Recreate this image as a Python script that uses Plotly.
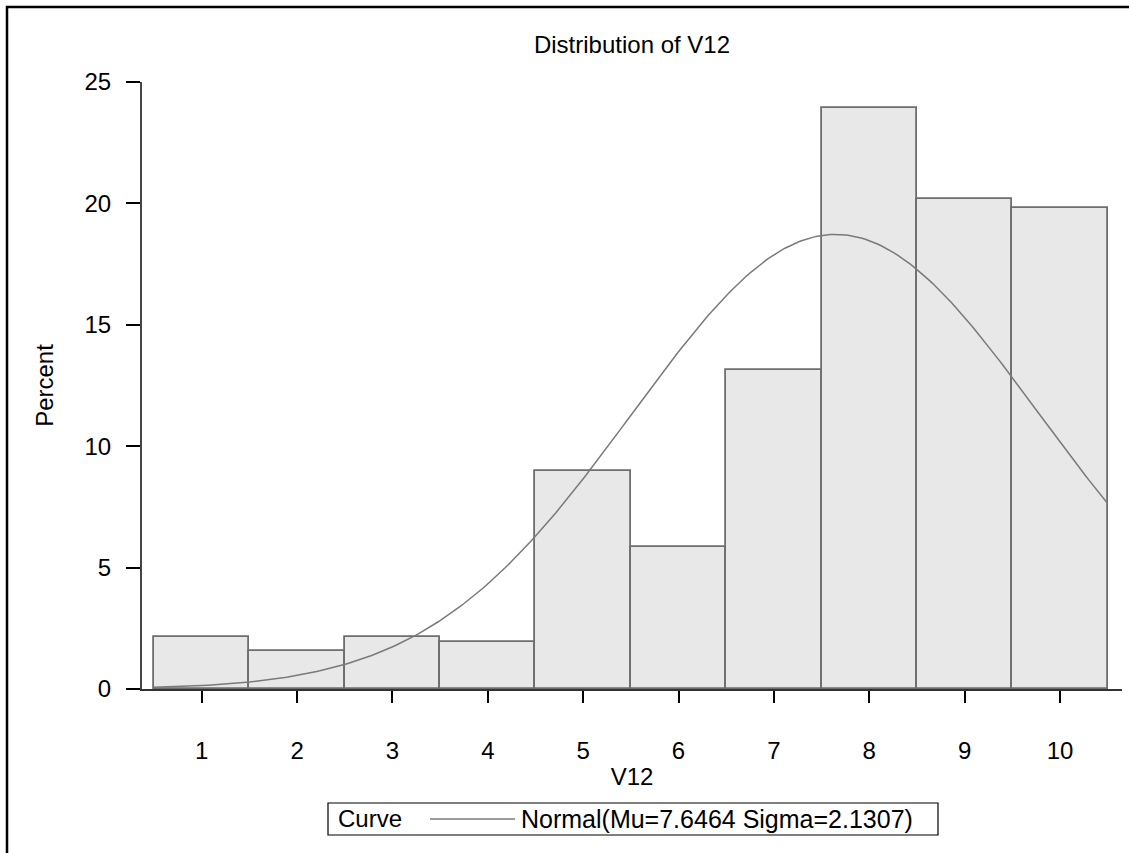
import numpy as np
import plotly.graph_objects as go

# ---- data ----
bin_centers = [1, 2, 3, 4, 5, 6, 7, 8, 9, 10]
percent = [2.16, 1.57, 2.16, 1.94, 8.99, 5.84, 13.12, 23.91, 20.17, 19.80]
MU = 7.6464
SIGMA = 2.1307
BIN_WIDTH = 1.0
x_ticks = [1, 2, 3, 4, 5, 6, 7, 8, 9, 10]
y_ticks = [0, 5, 10, 15, 20, 25]
legend_label = "Curve"
curve_name = f"Normal(Mu={MU:.4f} Sigma={SIGMA:.4f})"

# fitted normal curve (percent scale) from the legend parameters
xc = np.linspace(0.5, 10.5, 300)
yc = 100 * BIN_WIDTH * np.exp(-0.5 * ((xc - MU) / SIGMA) ** 2) / (SIGMA * np.sqrt(2 * np.pi))

FONT = "Liberation Sans, Arial, sans-serif"
CURVE_COLOR = "#7a7a7a"

fig = go.Figure()
fig.add_trace(go.Bar(
    x=bin_centers, y=percent, width=BIN_WIDTH,
    marker=dict(color="#e8e8e8", line=dict(color="#6e6e6e", width=1.8)),
    showlegend=False, hoverinfo="x+y",
))
fig.add_trace(go.Scatter(
    x=xc, y=yc, mode="lines",
    line=dict(color=CURVE_COLOR, width=1.5),
    name=curve_name, showlegend=False,
))

W, H = 1129, 853
ml, mr, mt, mb = 142, 7, 82, 164
pw = W - ml - mr
ph = H - mt - mb


def px(x):
    return (x - ml) / pw


def py(y):
    return (H - mb - y) / ph


fig.update_layout(
    width=W, height=H,
    margin=dict(l=ml, r=mr, t=mt, b=mb),
    paper_bgcolor="white", plot_bgcolor="white",
    font=dict(family=FONT, size=24, color="black"),
    title=dict(text="Distribution of V12", x=(ml + (W - mr)) / 2 / W, xanchor="center",
               y=1 - 45 / H, yanchor="middle", font=dict(size=24, color="black")),
    bargap=0,
    showlegend=False,
    xaxis=dict(
        range=[0.374, 10.65], tickvals=x_ticks, ticks="outside", ticklen=12, tickwidth=2,
        tickcolor="black", showline=True, linecolor="#333333", linewidth=2,
        showgrid=False, zeroline=False, ticklabelstandoff=27,
        title=dict(text="V12", standoff=5, font=dict(size=24)),
    ),
    yaxis=dict(
        range=[0, 25], tickvals=y_ticks, ticks="outside", ticklen=14, tickwidth=2,
        tickcolor="black", showline=True, linecolor="#444444", linewidth=2,
        showgrid=False, zeroline=False, ticklabelstandoff=10,
        title=dict(text="Percent", standoff=24, font=dict(size=24)),
    ),
)

# legend box (drawn by hand so the line sample has the reference's length)
fig.add_shape(type="rect", xref="paper", yref="paper",
              x0=px(328), x1=px(938), y0=py(835), y1=py(803),
              line=dict(color="black", width=1.2), fillcolor="white")
fig.add_shape(type="line", xref="paper", yref="paper",
              x0=px(430), x1=px(515), y0=py(819), y1=py(819),
              line=dict(color=CURVE_COLOR, width=1.5))
fig.add_annotation(text=legend_label, xref="paper", yref="paper", x=px(336), y=py(819),
                   xanchor="left", yanchor="middle", showarrow=False, font=dict(size=24))
fig.add_annotation(text=curve_name, xref="paper", yref="paper", x=px(519), y=py(819),
                   xanchor="left", yanchor="middle", showarrow=False, font=dict(size=25))

# outer frame of the graph (extends past right and bottom edge, as in the reference)
fig.add_shape(type="rect", xref="paper", yref="paper",
              x0=px(7), x1=px(W + 30), y0=py(H + 30), y1=py(7),
              line=dict(color="black", width=2.5), fillcolor="rgba(0,0,0,0)", layer="above")

fig.write_html("out.html")
